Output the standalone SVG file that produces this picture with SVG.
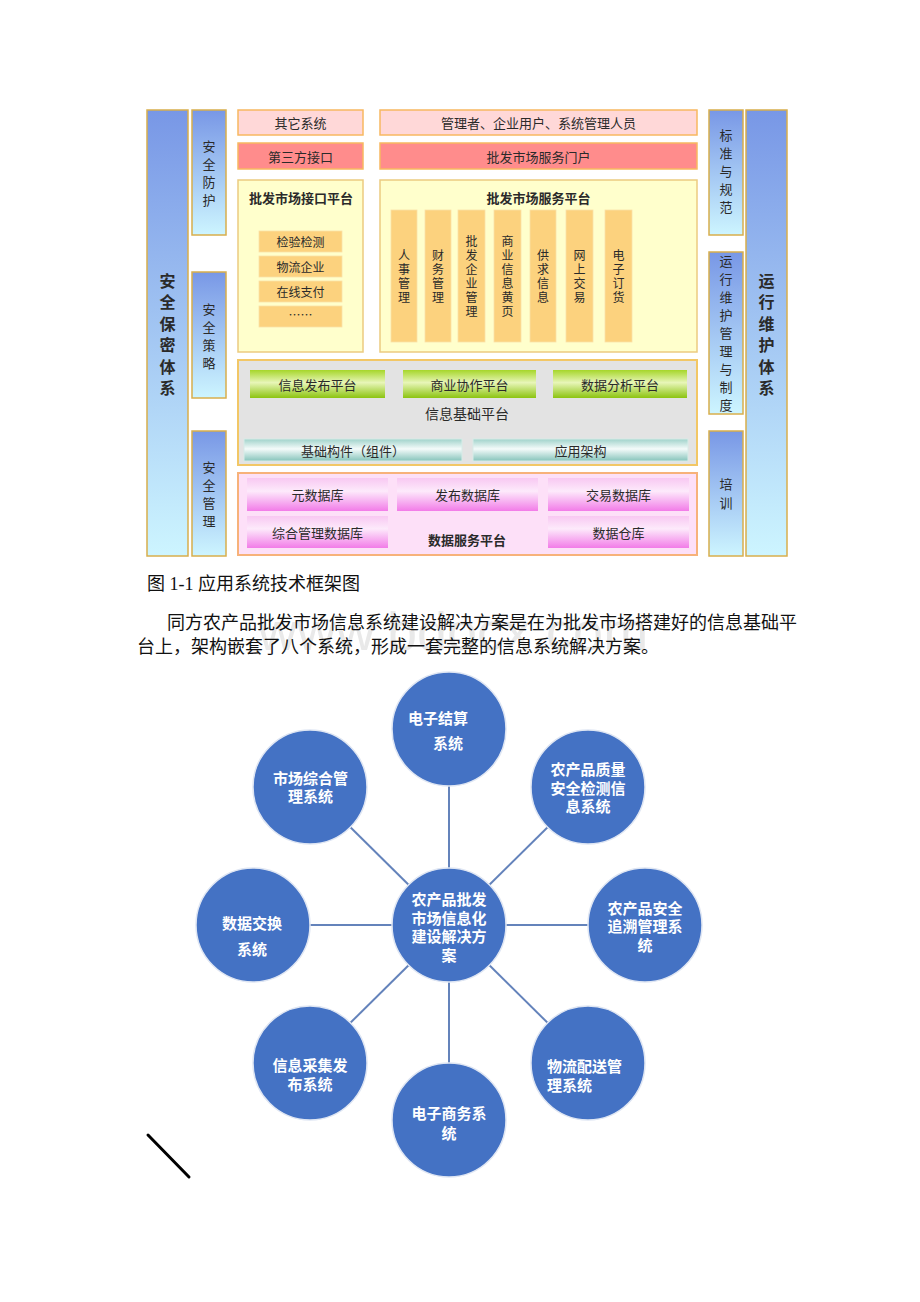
<svg xmlns="http://www.w3.org/2000/svg" width="920" height="1302" viewBox="0 0 920 1302">
<defs>
<linearGradient id="gBlue" x1="0" y1="0" x2="0" y2="1"><stop offset="0" stop-color="#7897e6"/><stop offset="1" stop-color="#cdf5ff"/></linearGradient>
<linearGradient id="gGreen" x1="0" y1="0" x2="0" y2="1"><stop offset="0" stop-color="#a6d62a"/><stop offset="0.45" stop-color="#e8f6b8"/><stop offset="1" stop-color="#8cc410"/></linearGradient>
<linearGradient id="gTeal" x1="0" y1="0" x2="0" y2="1"><stop offset="0" stop-color="#9fd2ca"/><stop offset="0.45" stop-color="#f4fbfa"/><stop offset="1" stop-color="#86c4bb"/></linearGradient>
<linearGradient id="gMag" x1="0" y1="0" x2="0" y2="1"><stop offset="0" stop-color="#f8c8f2"/><stop offset="0.4" stop-color="#fdeafb"/><stop offset="1" stop-color="#f27ce8"/></linearGradient>
<style>
.t{font-family:"Noto Sans CJK SC","Liberation Sans",sans-serif;fill:#2a2a2a;font-size:13px;text-anchor:middle;dominant-baseline:central}
.b{font-weight:bold}
.col{fill:url(#gBlue);stroke:#d8ae4c;stroke-width:1.5}
.pinkL{fill:#ffd8d8;stroke:#f8b860;stroke-width:1.5}
.pinkD{fill:#ff8c8c;stroke:#f8b860;stroke-width:1.5}
.plat{fill:#ffffcc;stroke:#eccb80;stroke-width:1.5}
.item{fill:#fcd27e;stroke:#fbe0a8;stroke-width:0.8}
.green{fill:url(#gGreen)}
.teal{fill:url(#gTeal);stroke:#d8ece8;stroke-width:1}
.mag{fill:url(#gMag)}
.circ{fill:#4472c4;stroke:#dfe6f3;stroke-width:1.5}
.ct{font-family:"Noto Sans CJK SC","Liberation Sans",sans-serif;fill:#ffffff;font-size:15px;font-weight:bold;dominant-baseline:central}
.conn{stroke:#6483bb;stroke-width:2;fill:none}
.para{font-family:"Liberation Serif","Noto Sans CJK SC",serif;fill:#111;font-size:18px}
</style>
</defs>
<rect width="920" height="1302" fill="#ffffff"/>

<!-- left security columns -->
<g id="n-anquanbaomi">
<rect class="col" x="147" y="110" width="41" height="446"/>
<text class="t b" style="font-size:16px"><tspan x="167.5" y="280">安</tspan><tspan x="167.5" y="301.4">全</tspan><tspan x="167.5" y="322.8">保</tspan><tspan x="167.5" y="344.2">密</tspan><tspan x="167.5" y="365.6">体</tspan><tspan x="167.5" y="387">系</tspan></text>
</g>
<g id="n-anquanfanghu">
<rect class="col" x="192" y="110" width="34" height="125"/>
<text class="t"><tspan x="209" y="145">安</tspan><tspan x="209" y="163">全</tspan><tspan x="209" y="181">防</tspan><tspan x="209" y="199">护</tspan></text>
</g>
<g id="n-anquancelue">
<rect class="col" x="192" y="272" width="34" height="126"/>
<text class="t"><tspan x="209" y="308">安</tspan><tspan x="209" y="326">全</tspan><tspan x="209" y="344">策</tspan><tspan x="209" y="362">略</tspan></text>
</g>
<g id="n-anquanguanli">
<rect class="col" x="192" y="431" width="34" height="125"/>
<text class="t"><tspan x="209" y="466">安</tspan><tspan x="209" y="484">全</tspan><tspan x="209" y="502">管</tspan><tspan x="209" y="520">理</tspan></text>
</g>

<!-- top row -->
<g id="n-qitaxitong">
<rect class="pinkL" x="238" y="110" width="125" height="25"/>
<text class="t" x="300.5" y="122.5">其它系统</text>
</g>
<g id="n-disanfang">
<rect class="pinkD" x="238" y="143" width="125" height="26"/>
<text class="t" x="300.5" y="156">第三方接口</text>
</g>
<g id="n-users">
<rect class="pinkL" x="380" y="110" width="317" height="25"/>
<text class="t" x="538.5" y="122.5">管理者、企业用户、系统管理人员</text>
</g>
<g id="n-menhu">
<rect class="pinkD" x="380" y="143" width="317" height="26"/>
<text class="t" x="538.5" y="156">批发市场服务门户</text>
</g>

<!-- interface platform -->
<g id="n-jiekou">
<rect class="plat" x="238" y="180" width="125" height="172"/>
<text class="t b" x="301" y="197">批发市场接口平台</text>
<rect class="item" x="259" y="231" width="83" height="21"/>
<text class="t" x="300.5" y="241.5" style="font-size:12px">检验检测</text>
<rect class="item" x="259" y="256" width="83" height="21"/>
<text class="t" x="300.5" y="266.5" style="font-size:12px">物流企业</text>
<rect class="item" x="259" y="281" width="83" height="21"/>
<text class="t" x="300.5" y="291.5" style="font-size:12px">在线支付</text>
<rect class="item" x="259" y="306" width="83" height="21"/>
<text class="t" x="300.5" y="314" style="font-size:12px">……</text>
</g>

<!-- service platform -->
<g id="n-fuwu">
<rect class="plat" x="380" y="180" width="317" height="172"/>
<text class="t b" x="538.5" y="197">批发市场服务平台</text>
<rect class="item" x="391" y="210" width="26" height="132"/>
<text class="t" style="font-size:12px"><tspan x="404" y="254">人</tspan><tspan x="404" y="268">事</tspan><tspan x="404" y="282">管</tspan><tspan x="404" y="296">理</tspan></text>
<rect class="item" x="425" y="210" width="26" height="132"/>
<text class="t" style="font-size:12px"><tspan x="438" y="254">财</tspan><tspan x="438" y="268">务</tspan><tspan x="438" y="282">管</tspan><tspan x="438" y="296">理</tspan></text>
<rect class="item" x="458" y="210" width="27" height="132"/>
<text class="t" style="font-size:12px"><tspan x="471.5" y="240">批</tspan><tspan x="471.5" y="254">发</tspan><tspan x="471.5" y="268">企</tspan><tspan x="471.5" y="282">业</tspan><tspan x="471.5" y="296">管</tspan><tspan x="471.5" y="310">理</tspan></text>
<rect class="item" x="494" y="210" width="27" height="132"/>
<text class="t" style="font-size:12px"><tspan x="507.5" y="240">商</tspan><tspan x="507.5" y="254">业</tspan><tspan x="507.5" y="268">信</tspan><tspan x="507.5" y="282">息</tspan><tspan x="507.5" y="296">黄</tspan><tspan x="507.5" y="310">页</tspan></text>
<rect class="item" x="530" y="210" width="26" height="132"/>
<text class="t" style="font-size:12px"><tspan x="543" y="254">供</tspan><tspan x="543" y="268">求</tspan><tspan x="543" y="282">信</tspan><tspan x="543" y="296">息</tspan></text>
<rect class="item" x="566" y="210" width="27" height="132"/>
<text class="t" style="font-size:12px"><tspan x="579.5" y="254">网</tspan><tspan x="579.5" y="268">上</tspan><tspan x="579.5" y="282">交</tspan><tspan x="579.5" y="296">易</tspan></text>
<rect class="item" x="605" y="210" width="27" height="132"/>
<text class="t" style="font-size:12px"><tspan x="618.5" y="254">电</tspan><tspan x="618.5" y="268">子</tspan><tspan x="618.5" y="282">订</tspan><tspan x="618.5" y="296">货</tspan></text>
</g>

<!-- info base platform -->
<g id="n-jichu">
<rect x="238" y="360" width="459" height="105" fill="#e3e3e3" stroke="#f2c766" stroke-width="2"/>
<rect class="green" x="250" y="370" width="135" height="28"/>
<text class="t" x="317.5" y="384">信息发布平台</text>
<rect class="green" x="403" y="370" width="133" height="28"/>
<text class="t" x="469.5" y="384">商业协作平台</text>
<rect class="green" x="553" y="370" width="134" height="28"/>
<text class="t" x="620" y="384">数据分析平台</text>
<text class="t" x="467" y="413" style="font-size:14px">信息基础平台</text>
<rect class="teal" x="244" y="439" width="218" height="22"/>
<text class="t" x="353" y="450">基础构件（组件）</text>
<rect class="teal" x="473" y="439" width="215" height="22"/>
<text class="t" x="580.5" y="450">应用架构</text>
</g>

<!-- data service platform -->
<g id="n-shuju">
<rect x="238" y="473" width="459" height="82" fill="#fde0f8" stroke="#f7b27a" stroke-width="2"/>
<rect class="mag" x="247" y="478" width="141" height="33"/>
<text class="t" x="317.5" y="494.5">元数据库</text>
<rect class="mag" x="397" y="478" width="141" height="33"/>
<text class="t" x="467.5" y="494.5">发布数据库</text>
<rect class="mag" x="548" y="478" width="141" height="33"/>
<text class="t" x="618.5" y="494.5">交易数据库</text>
<rect class="mag" x="247" y="516" width="141" height="32"/>
<text class="t" x="317.5" y="532">综合管理数据库</text>
<rect class="mag" x="548" y="516" width="141" height="32"/>
<text class="t" x="618.5" y="532">数据仓库</text>
<text class="t b" x="467" y="539">数据服务平台</text>
</g>

<!-- right maintenance columns -->
<g id="n-biaozhun">
<rect class="col" x="709" y="110" width="34" height="125"/>
<text class="t"><tspan x="726" y="134">标</tspan><tspan x="726" y="152">准</tspan><tspan x="726" y="170">与</tspan><tspan x="726" y="188">规</tspan><tspan x="726" y="206">范</tspan></text>
</g>
<g id="n-yunweiguanli">
<rect class="col" x="709" y="252" width="34" height="162"/>
<text class="t"><tspan x="726" y="260">运</tspan><tspan x="726" y="278">行</tspan><tspan x="726" y="296">维</tspan><tspan x="726" y="314">护</tspan><tspan x="726" y="332">管</tspan><tspan x="726" y="350">理</tspan><tspan x="726" y="368">与</tspan><tspan x="726" y="386">制</tspan><tspan x="726" y="404">度</tspan></text>
</g>
<g id="n-peixun">
<rect class="col" x="709" y="431" width="34" height="125"/>
<text class="t"><tspan x="726" y="483">培</tspan><tspan x="726" y="502">训</tspan></text>
</g>
<g id="n-yunweitixi">
<rect class="col" x="746" y="110" width="41" height="446"/>
<text class="t b" style="font-size:16px"><tspan x="766.5" y="280">运</tspan><tspan x="766.5" y="301.4">行</tspan><tspan x="766.5" y="322.8">维</tspan><tspan x="766.5" y="344.2">护</tspan><tspan x="766.5" y="365.6">体</tspan><tspan x="766.5" y="387">系</tspan></text>
</g>

<!-- caption and paragraph -->
<g id="caption">
<text x="258" y="650" style="font-family:'Liberation Sans',sans-serif;font-size:54px;fill:#e9e9e9">www.bdocx.com</text>
<text class="para" x="147" y="590">图 1-1 应用系统技术框架图</text>
<text class="para" x="167" y="629">同方农产品批发市场信息系统建设解决方案是在为批发市场搭建好的信息基础平</text>
<text class="para" x="137" y="653">台上，架构嵌套了八个系统，形成一套完整的信息系统解决方案。</text>
</g>

<!-- connectors -->
<g id="connectors">
<line class="conn" x1="449" y1="786" x2="449" y2="868"/>
<line class="conn" x1="449" y1="982" x2="449" y2="1063"/>
<line class="conn" x1="310" y1="925" x2="392" y2="925"/>
<line class="conn" x1="506" y1="925" x2="588" y2="925"/>
<line class="conn" x1="350.4" y1="827.2" x2="408.6" y2="884.8"/>
<line class="conn" x1="547.6" y1="827.2" x2="489.4" y2="884.8"/>
<line class="conn" x1="350.4" y1="1022.8" x2="408.6" y2="965.2"/>
<line class="conn" x1="547.6" y1="1022.8" x2="489.4" y2="965.2"/>
</g>

<!-- circle nodes -->
<g id="c-center">
<circle class="circ" cx="449" cy="925" r="57"/>
<text class="ct" text-anchor="middle"><tspan x="449" y="898">农产品批发</tspan><tspan x="449" y="916.5">市场信息化</tspan><tspan x="449" y="935">建设解决方</tspan><tspan x="449" y="953.5">案</tspan></text>
</g>
<g id="c-jiesuan">
<circle class="circ" cx="449" cy="729" r="57"/>
<text class="ct"><tspan x="408" y="717">电子结算</tspan><tspan x="433" y="742">系统</tspan></text>
</g>
<g id="c-zonghe">
<circle class="circ" cx="310" cy="787" r="57"/>
<text class="ct"><tspan x="273" y="777">市场综合管</tspan><tspan x="288" y="795">理系统</tspan></text>
</g>
<g id="c-zhiliang">
<circle class="circ" cx="588" cy="787" r="57"/>
<text class="ct" text-anchor="middle"><tspan x="588" y="768">农产品质量</tspan><tspan x="588" y="787">安全检测信</tspan><tspan x="588" y="805">息系统</tspan></text>
</g>
<g id="c-jiaohuan">
<circle class="circ" cx="253" cy="925" r="57"/>
<text class="ct" text-anchor="middle"><tspan x="252" y="922">数据交换</tspan><tspan x="252" y="948">系统</tspan></text>
</g>
<g id="c-zhuisu">
<circle class="circ" cx="645" cy="925" r="57"/>
<text class="ct" text-anchor="middle"><tspan x="645" y="907">农产品安全</tspan><tspan x="645" y="925">追溯管理系</tspan><tspan x="645" y="944">统</tspan></text>
</g>
<g id="c-caiji">
<circle class="circ" cx="310" cy="1063" r="57"/>
<text class="ct" text-anchor="middle"><tspan x="310" y="1064">信息采集发</tspan><tspan x="310" y="1083">布系统</tspan></text>
</g>
<g id="c-wuliu">
<circle class="circ" cx="588" cy="1063" r="57"/>
<text class="ct"><tspan x="547" y="1065">物流配送管</tspan><tspan x="547" y="1084">理系统</tspan></text>
</g>
<g id="c-shangwu">
<circle class="circ" cx="449" cy="1120" r="57"/>
<text class="ct" text-anchor="middle"><tspan x="449" y="1112">电子商务系</tspan><tspan x="449" y="1132">统</tspan></text>
</g>

<line x1="148" y1="1135" x2="189" y2="1177" stroke="#000" stroke-width="3" stroke-linecap="round"/>
</svg>
